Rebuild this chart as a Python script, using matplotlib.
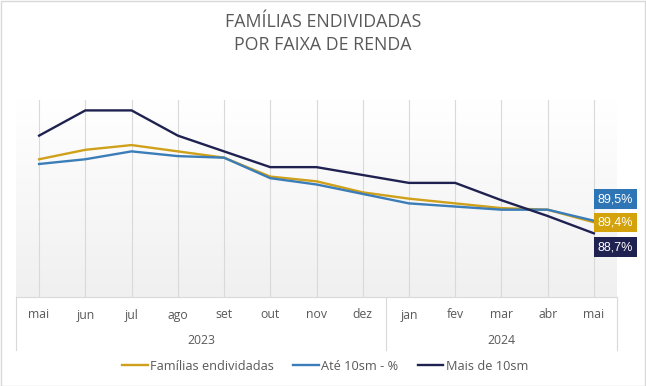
import numpy as np
import matplotlib
matplotlib.use("Agg")
import matplotlib.pyplot as plt
from matplotlib.lines import Line2D
from matplotlib.colors import LinearSegmentedColormap

months = ["mai", "jun", "jul", "ago", "set", "out", "nov", "dez",
          "jan", "fev", "mar", "abr", "mai"]
years = ["2023", "2024"]
year_counts = [8, 5]

familias = [93.4, 94.0, 94.3, 93.9, 93.5, 92.3, 92.0, 91.3, 90.9, 90.6, 90.3, 90.2, 89.4]
ate_10sm = [93.1, 93.4, 93.9, 93.6, 93.5, 92.2, 91.8, 91.2, 90.6, 90.4, 90.2, 90.2, 89.5]
mais_10sm = [94.9, 96.5, 96.5, 94.9, 93.9, 92.9, 92.9, 92.4, 91.9, 91.9, 90.8, 89.8, 88.7]

series_names = ["Famílias endividadas", "Até 10sm - %", "Mais de 10sm"]
line_colors = ["#CFA019", "#3B7DB8", "#1F2150"]
box_colors = ["#D4A20B", "#2E75B6", "#1F2150"]

plt.rcParams['font.family'] = ['Open Sans', 'DejaVu Sans']
txt_color = "#595959"
grid_color = "#D9D9D9"

W, H = 646, 386
fig = plt.figure(figsize=(W / 100, H / 100), dpi=100)
ax = fig.add_axes([16 / W, 1 - 297 / H, (617 - 16) / W, (297 - 100) / H])

x = np.arange(len(months))

# gradient background
cmap = LinearSegmentedColormap.from_list("g", ["#F0F0F0", "#FFFFFF"])
ax.imshow(np.linspace(0, 1, 256).reshape(-1, 1), aspect="auto", cmap=cmap,
          extent=[0, 1, 0, 1], transform=ax.transAxes, zorder=0, origin="lower")

for xi in x:
    ax.axvline(xi, color=grid_color, lw=0.8, zorder=1)

series = [familias, ate_10sm, mais_10sm]
for vals, c, name in zip(series, line_colors, series_names):
    ax.plot(x, vals, color=c, lw=1.7, zorder=3, label=name,
            solid_joinstyle="miter")

ax.set_xlim(-0.5, len(months) - 0.5)
ax.set_ylim(84.66, 97.16)
ax.set_yticks([])
ax.set_xticks([])
for s in ["top", "right", "left"]:
    ax.spines[s].set_visible(False)
ax.spines["bottom"].set_color(grid_color)
ax.spines["bottom"].set_linewidth(0.8)

trans = ax.get_xaxis_transform()
axh = 197.0
for xi, m in zip(x, months):
    ax.text(xi, -(315 - 297) / axh, m, transform=trans, ha="center", va="center",
            fontsize=8.8, color=txt_color)

start = 0
for yr, n in zip(years, year_counts):
    center = start + (n - 1) / 2
    ax.text(center, -(341 - 297) / axh, yr, transform=trans, ha="center",
            va="center", fontsize=8.8, color=txt_color)
    start += n

bounds = [-0.5]
acc = -0.5
for n in year_counts:
    acc += n
    bounds.append(acc)
for b in bounds:
    ax.add_line(Line2D([b, b], [0, -(350 - 297) / axh], transform=trans,
                       color=grid_color, lw=0.8, clip_on=False))

# end labels
offsets = [0.0, 15.6, -9.9]
last = len(months) - 1
for vals, c, off in zip(series, box_colors, offsets):
    ax.annotate(f"{vals[-1]:.1f}%".replace(".", ","), xy=(last, vals[-1]),
                xytext=(15.6, off), textcoords="offset points",
                ha="center", va="center", fontsize=9, color="white",
                family=["Liberation Sans", "DejaVu Sans"],
                bbox=dict(boxstyle="square,pad=0.3", fc=c, ec="none"),
                zorder=5, annotation_clip=False)

fig.text(323 / W, 1 - 22 / H, "FAMÍLIAS ENDIVIDADAS", ha="center", va="center",
         fontsize=12.8, color=txt_color)
fig.text(323 / W, 1 - 45 / H, "POR FAIXA DE RENDA", ha="center", va="center",
         fontsize=12.8, color=txt_color)

handles = [Line2D([0], [0], color=c, lw=1.7) for c in line_colors]
fig.legend(handles, series_names, loc="center", bbox_to_anchor=(325 / W, 1 - 366 / H),
           ncol=3, frameon=False, fontsize=9.2, labelcolor=txt_color,
           handlelength=2.0, handletextpad=0.2, columnspacing=1.5)

fig.patches.append(plt.Rectangle((0.5 / W, 0.5 / H), (W - 1.5) / W, (H - 1.5) / H,
                                 transform=fig.transFigure, fill=False,
                                 ec="#D9D9D9", lw=1))

fig.savefig("out.png", dpi=100)
